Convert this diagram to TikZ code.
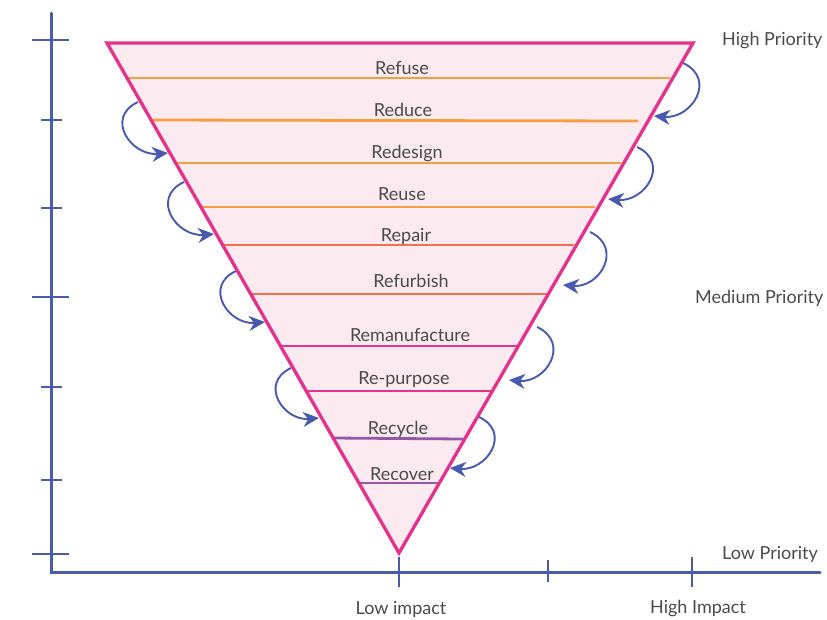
\documentclass[tikz,border=0pt]{standalone}
\usepackage{fontspec}
\setmainfont{Lato}
\usetikzlibrary{arrows.meta}
\definecolor{axisblue}{HTML}{4A5BAE}
\definecolor{arrowblue}{HTML}{4759B0}
\definecolor{rim}{HTML}{E5318C}
\definecolor{paleink}{HTML}{FBEBF1}
\definecolor{orangeA}{HTML}{F59E3D}
\definecolor{orangeB}{HTML}{F2704C}
\definecolor{magentaC}{HTML}{E3358F}
\definecolor{purpleD}{HTML}{9657A6}
\definecolor{labelgray}{HTML}{4A4A4A}
\begin{document}
\begin{tikzpicture}[x=1pt,y=1pt,
  axis/.style={draw=axisblue,line width=3pt},
  bigtick/.style={draw=axisblue,line width=2.5pt},
  smalltick/.style={draw=axisblue,line width=1.3pt},
  tier/.style={line width=2.8pt},
  lbl/.style={text=labelgray,font=\fontsize{18}{20}\selectfont,anchor=base,inner sep=0pt},
  sidelbl/.style={text=labelgray,font=\fontsize{18}{20}\selectfont,anchor=base west,inner sep=0pt},
  botlbl/.style={text=labelgray,font=\fontsize{18}{20}\selectfont,anchor=base,inner sep=0pt},
  loop/.style={draw=arrowblue,line width=1.9pt,-{Stealth[length=16pt,width=15pt]},looseness=1.6}]
\useasboundingbox (0,0) rectangle (827,-619);

% axes
\coordinate (ytop) at (51,-13);
\coordinate (origin) at (51,-572);
\coordinate (xend) at (820,-572);
\draw[axis,line cap=round] (ytop) -- (origin) -- (xend);

% vertical axis ticks
\draw[bigtick] (32,-40) -- (69,-40);
\draw[smalltick] (41,-120) -- (62,-120);
\draw[smalltick] (41,-208) -- (62,-208);
\draw[bigtick] (32,-297) -- (69,-297);
\draw[smalltick] (41,-387) -- (62,-387);
\draw[smalltick] (41,-480) -- (62,-480);
\draw[bigtick] (32,-554) -- (69,-554);

% horizontal axis ticks
\draw[bigtick] (399,-557) -- (399,-587);
\draw[smalltick] (548,-560) -- (548,-582);
\draw[bigtick] (692,-557) -- (692,-587);

% the inverted pyramid
\coordinate (tl) at (107,-43);
\coordinate (tr) at (693,-43);
\coordinate (tip) at (399,-553);
\fill[paleink] (tl) -- (tr) -- (tip) -- cycle;

% tier divisions
\draw[tier,orangeA] (127,-78) -- (670,-78);
\draw[tier,orangeA] (152,-120) -- (638,-121);
\draw[tier,orangeA] (176,-163) -- (621,-163);
\draw[tier,orangeA] (202,-207) -- (595,-207);
\draw[tier,orangeB] (222,-245) -- (574,-245);
\draw[tier,orangeB] (251,-294) -- (547,-294);
\draw[tier,magentaC] (281,-346) -- (518,-346);
\draw[tier,magentaC] (306,-391) -- (493,-391);
\draw[tier,purpleD] (333,-438) -- (463,-439);
\draw[tier,purpleD] (360,-483) -- (440,-483);

\draw[draw=rim,line width=3.3pt,line join=miter] (tl) -- (tr) -- (tip) -- cycle;

% tier labels
\node[lbl] (refuse) at (402,-74) {Refuse};
\node[lbl] (reduce) at (403,-116) {Reduce};
\node[lbl] (redesign) at (407,-158) {Redesign};
\node[lbl] (reuse) at (402,-200) {Reuse};
\node[lbl] (repair) at (406,-241) {Repair};
\node[lbl] (refurbish) at (411,-287) {Refurbish};
\node[lbl] (reman) at (410,-341) {Remanufacture};
\node[lbl] (repurpose) at (404,-384) {Re-purpose};
\node[lbl] (recycle) at (398,-434) {Recycle};
\node[lbl] (recover) at (402,-480) {Recover};

% priority and impact labels
\node[sidelbl] (highprio) at (722,-45) {High Priority};
\node[sidelbl] (medprio) at (695,-303) {Medium Priority};
\node[sidelbl] (lowprio) at (722,-559) {Low Priority};
\node[botlbl] (lowimp) at (401,-614) {Low impact};
\node[botlbl] (highimp) at (698,-613) {High Impact};

% loop arrows on the left edge
\coordinate (l1s) at (138,-102); \coordinate (l1t) at (168,-153);
\coordinate (l2s) at (184,-182); \coordinate (l2t) at (214,-234);
\coordinate (l3s) at (236,-271); \coordinate (l3t) at (265,-322);
\coordinate (l4s) at (291,-368); \coordinate (l4t) at (319,-418);
\draw[loop] (l1s) to[out=205,in=185] (l1t);
\draw[loop] (l2s) to[out=205,in=185] (l2t);
\draw[loop] (l3s) to[out=205,in=185] (l3t);
\draw[loop] (l4s) to[out=205,in=185] (l4t);

% loop arrows on the right edge
\coordinate (r1s) at (683,-63); \coordinate (r1t) at (654,-116);
\coordinate (r2s) at (637,-147); \coordinate (r2t) at (608,-199);
\coordinate (r3s) at (590,-232); \coordinate (r3t) at (563,-285);
\coordinate (r4s) at (537,-327); \coordinate (r4t) at (509,-380);
\coordinate (r5s) at (479,-417); \coordinate (r5t) at (450,-468);
\draw[loop] (r1s) to[out=-25,in=-5] (r1t);
\draw[loop] (r2s) to[out=-25,in=-5] (r2t);
\draw[loop] (r3s) to[out=-25,in=-5] (r3t);
\draw[loop] (r4s) to[out=-25,in=-5] (r4t);
\draw[loop] (r5s) to[out=-25,in=-5] (r5t);
\end{tikzpicture}
\end{document}
